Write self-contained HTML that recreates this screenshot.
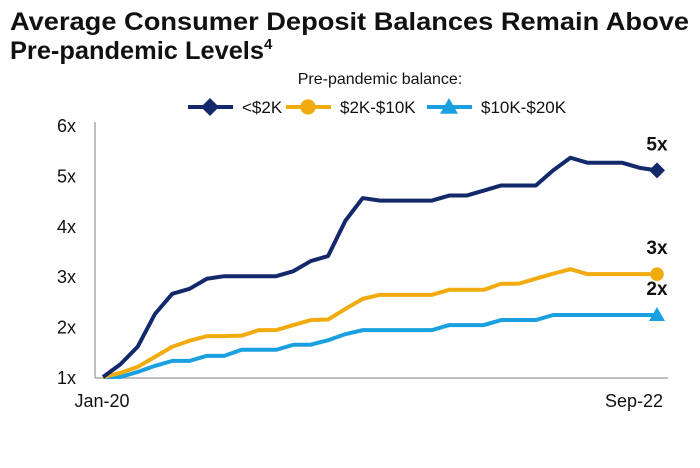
<!DOCTYPE html>
<html><head><meta charset="utf-8"><style>
body{margin:0;background:#fff;width:700px;height:463px;overflow:hidden;font-family:"Liberation Sans","DejaVu Sans",sans-serif}
</style></head><body>
<svg id="chart" width="700" height="463" viewBox="0 0 700 463" xmlns="http://www.w3.org/2000/svg" font-family="Liberation Sans, DejaVu Sans, sans-serif">
<text x="10" y="30" font-size="25" font-weight="bold" fill="#111" textLength="679" lengthAdjust="spacingAndGlyphs">Average Consumer Deposit Balances Remain Above</text>
<text x="10" y="59" font-size="25" font-weight="bold" fill="#111"><tspan textLength="254" lengthAdjust="spacingAndGlyphs">Pre-pandemic Levels</tspan><tspan font-size="15" dy="-10">4</tspan></text>
<text x="380" y="84" font-size="16" fill="#111" text-anchor="middle">Pre-pandemic balance:</text>
<g id="legend"></g>
<g id="axes"></g>
<g id="series"></g>
</svg>
<script>
const categories = ["Jan-20","Sep-22"];
const yTicks = [1,2,3,4,5,6];
const yTickLabels = ["1x","2x","3x","4x","5x","6x"];
const seriesNames = ["<$2K","$2K-$10K","$10K-$20K"];
const endLabels = ["5x","3x","2x"];
const under2k = [1.0,1.25,1.6,2.25,2.65,2.75,2.95,3.0,3.0,3.0,3.0,3.1,3.3,3.4,4.1,4.55,4.5,4.5,4.5,4.5,4.6,4.6,4.7,4.8,4.8,4.8,5.1,5.35,5.25,5.25,5.25,5.15,5.1];
const mid2to10k = [1.0,1.08,1.2,1.4,1.6,1.72,1.81,1.81,1.82,1.93,1.93,2.03,2.13,2.14,2.35,2.55,2.63,2.63,2.63,2.63,2.73,2.73,2.73,2.85,2.85,2.95,3.05,3.14,3.04,3.04,3.04,3.04,3.04];
const hi10to20k = [1.0,1.0,1.1,1.22,1.32,1.32,1.42,1.42,1.54,1.54,1.54,1.64,1.64,1.73,1.85,1.93,1.93,1.93,1.93,1.93,2.03,2.03,2.03,2.13,2.13,2.13,2.23,2.23,2.23,2.23,2.23,2.23,2.23];

const NS="http://www.w3.org/2000/svg";
const colors=["#14296b","#f2ab0f","#1ba0df"];
const x0=103,x1=657,y0=377,yStep=50.4;
const xs=i=>x0+i*(x1-x0)/(under2k.length-1);
const ys=v=>y0-(v-1)*yStep;
function mk(tag,attrs,parent){const e=document.createElementNS(NS,tag);for(const k in attrs)e.setAttribute(k,attrs[k]);parent.appendChild(e);return e;}
const axes=document.getElementById('axes');
let a=mk('line',{x1:95,y1:122,x2:95,y2:378,stroke:'#aaa','stroke-width':1.5},axes);


a=mk('line',{x1:95,y1:378,x2:668,y2:378,stroke:'#aaa','stroke-width':1.5},axes);


yTicks.forEach((v,i)=>{const t=mk('text',{x:76,y:ys(v)+7,'font-size':18,'text-anchor':'end',fill:'#111'},axes);t.textContent=yTickLabels[i];

});
[[categories[0],102],[categories[1],634]].forEach(([c,x])=>{const t=mk('text',{x:x,y:407,'font-size':18,'text-anchor':'middle',fill:'#111'},axes);t.textContent=c;

});
function marker(k,x,y,g,s){
 if(k===0)return mk('polygon',{points:`${x},${y-s} ${x+s},${y} ${x},${y+s} ${x-s},${y}`,fill:colors[0]},g);
 if(k===1)return mk('circle',{cx:x,cy:y,r:s*0.85,fill:colors[1]},g);
 return mk('polygon',{points:`${x},${y-s} ${x+s},${y+s*0.75} ${x-s},${y+s*0.75}`,fill:colors[2]},g);
}
const ser=document.getElementById('series');
const data=[under2k,mid2to10k,hi10to20k];
const labY=[-20,-20,-20];
data.slice().reverse().forEach((d,ri)=>{const k=2-ri;
 const p=mk('polyline',{points:d.map((v,i)=>xs(i)+','+ys(v)).join(' '),fill:'none',stroke:colors[k],'stroke-width':4,'stroke-linejoin':'round'},ser);
 
 
 const n=d.length-1;
 const m=marker(k,xs(n),ys(d[n]),ser,8);
 
 
 const t=mk('text',{x:xs(n),y:ys(d[n])+labY[k],'font-size':19,'font-weight':'bold','text-anchor':'middle',fill:'#111'},ser);t.textContent=endLabels[k];
 
 
});
const leg=document.getElementById('legend');
const lx=[188,286,427];
seriesNames.forEach((n,k)=>{const g=mk('g',{},leg);
 
 
 mk('line',{x1:lx[k],y1:107,x2:lx[k]+45,y2:107,stroke:colors[k],'stroke-width':4},g);
 marker(k,lx[k]+22,107,g,9);
 const t=mk('text',{x:lx[k]+54,y:113,'font-size':17,fill:'#111'},g);t.textContent=n;});
</script>
</body></html>
